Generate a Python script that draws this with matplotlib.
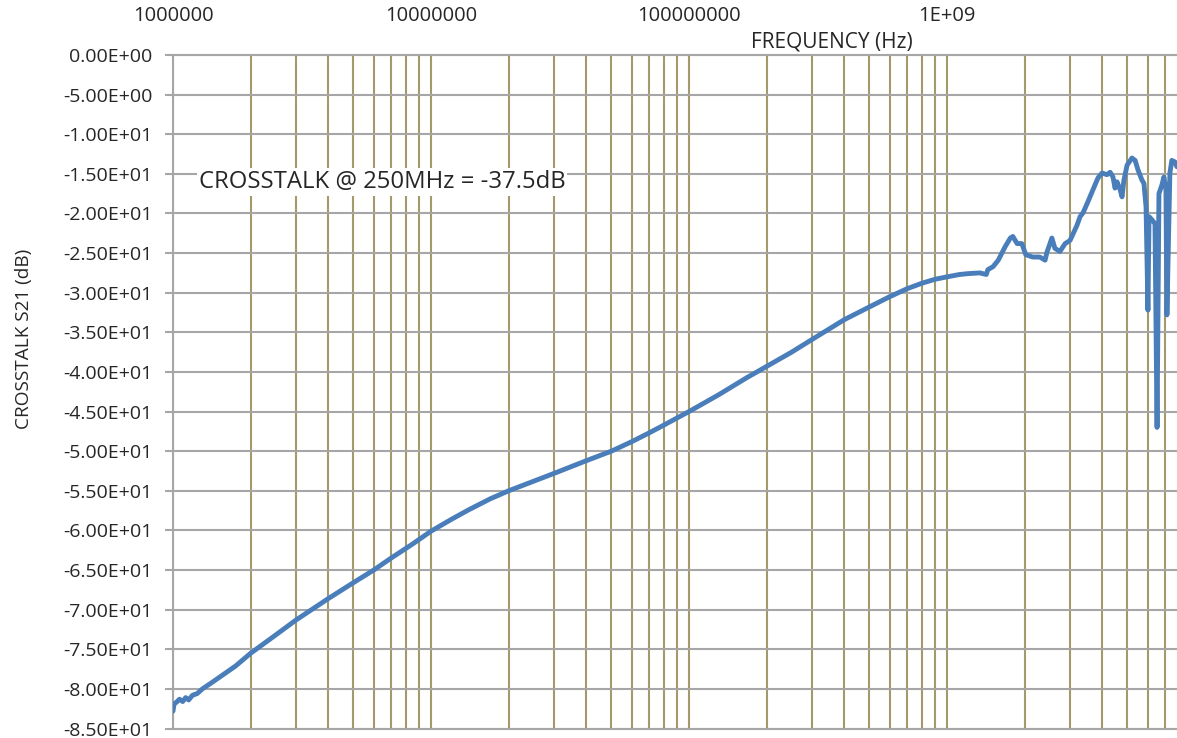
import matplotlib
matplotlib.use("Agg")
import matplotlib.pyplot as plt
from matplotlib.ticker import FuncFormatter, LogLocator, MultipleLocator

# Measured near-end crosstalk of the cable pair, frequency in Hz, S21 in dB
freq_hz = [
    1.00e6, 1.01e6, 1.03e6, 1.06e6, 1.09e6, 1.12e6, 1.15e6, 1.19e6, 1.24e6, 1.30e6,
    1.40e6, 1.55e6, 1.75e6, 2.0e6, 2.5e6, 3.0e6, 4.0e6, 5.0e6, 6.0e6, 7.0e6,
    8.5e6, 1.0e7, 1.2e7, 1.4e7, 1.7e7, 2.0e7, 3.0e7, 4.0e7, 5.0e7, 6.0e7,
    7.0e7, 8.0e7, 9.0e7, 1.0e8, 1.3e8, 1.68e8, 2.0e8, 2.5e8, 3.0e8, 4.0e8,
    5.0e8, 6.0e8, 7.0e8, 8.0e8, 9.0e8, 1.0e9, 1.12e9, 1.20e9, 1.34e9, 1.42e9,
    1.44e9, 1.51e9, 1.58e9, 1.68e9, 1.76e9, 1.80e9, 1.87e9, 1.95e9, 2.02e9, 2.15e9,
    2.29e9, 2.40e9, 2.44e9, 2.55e9, 2.62e9, 2.74e9, 2.87e9, 3.00e9, 3.19e9, 3.28e9,
    3.37e9, 3.52e9, 3.68e9, 3.85e9, 3.99e9, 4.17e9, 4.29e9, 4.40e9, 4.48e9, 4.56e9,
    4.69e9, 4.77e9, 4.85e9, 4.99e9, 5.21e9, 5.36e9, 5.50e9, 5.70e9, 5.80e9, 5.91e9,
    6.01e9, 6.07e9, 6.23e9, 6.40e9, 6.52e9, 6.63e9, 6.81e9, 6.93e9, 7.06e9, 7.12e9,
    7.31e9, 7.44e9, 7.65e9, 7.78e9,
]
s21_db = [
    -82.8, -81.9, -81.7, -81.3, -81.6, -81.1, -81.4, -80.8, -80.6, -80.0,
    -79.3, -78.3, -77.1, -75.5, -73.2, -71.3, -68.6, -66.6, -65.0, -63.5,
    -61.7, -60.1, -58.6, -57.4, -56.0, -55.0, -52.8, -51.2, -50.0, -48.8,
    -47.7, -46.7, -45.8, -45.0, -42.9, -40.7, -39.3, -37.5, -35.9, -33.4,
    -31.8, -30.5, -29.5, -28.8, -28.3, -28.0, -27.7, -27.6, -27.5, -27.7,
    -27.1, -26.7, -25.9, -24.2, -23.1, -22.9, -23.8, -23.8, -25.2, -25.5,
    -25.5, -25.9, -24.9, -23.1, -24.4, -24.8, -23.8, -23.4, -21.5, -20.4,
    -19.9, -18.5, -17.0, -15.5, -14.9, -15.1, -14.8, -15.4, -16.8, -16.0,
    -17.0, -17.9, -15.8, -13.9, -13.0, -13.3, -14.5, -15.8, -16.2, -19.2,
    -32.2, -20.4, -20.8, -21.3, -47.0, -17.5, -16.4, -15.4, -17.0, -32.8,
    -14.9, -13.3, -13.5, -14.1,
]

x_range = (1.0e6, 7.79e9)
y_range = (-85.0, 0.0)
y_step = 5.0

annotation = "CROSSTALK @ 250MHz = -37.5dB"
x_title = "FREQUENCY (Hz)"
y_title = "CROSSTALK S21 (dB)"

FONT = ["Open Sans", "DejaVu Sans"]
TEXT_COLOR = "#262626"
LINE_COLOR = "#4A7EBB"
HGRID_COLOR = "#A6A6A6"
VGRID_COLOR = "#A39A6C"

plt.rcParams["font.family"] = FONT

W, H = 1177, 738
fig = plt.figure(figsize=(W / 100, H / 100), dpi=100)
left_px, right_px, top_px, bottom_px = 173, 1177, 55, 728.5
ax = fig.add_axes([left_px / W, 1 - bottom_px / H,
                   (right_px - left_px) / W, (bottom_px - top_px) / H])

ax.set_xscale("log")
ax.set_xlim(*x_range)
ax.set_ylim(*y_range)

# grid: horizontal grey lines every 5 dB, vertical khaki lines at every 1..9 x decade
ax.yaxis.set_major_locator(MultipleLocator(y_step))
ax.xaxis.set_major_locator(LogLocator(base=10, numticks=20))
ax.xaxis.set_minor_locator(LogLocator(base=10, subs=range(2, 10), numticks=50))
ax.grid(True, axis="y", which="major", color=HGRID_COLOR, linewidth=1.5)
ax.grid(True, axis="x", which="both", color=VGRID_COLOR, linewidth=1.5)
ax.set_axisbelow(True)

# frequency axis drawn along the top
ax.xaxis.tick_top()
ax.xaxis.set_label_position("top")


def freq_label(v, _pos):
    if v >= 1e9:
        return "1E+09"
    return f"{int(round(v))}"


ax.xaxis.set_major_formatter(FuncFormatter(freq_label))
ax.xaxis.set_minor_formatter(FuncFormatter(lambda v, p: ""))
ax.tick_params(axis="x", which="both", length=0, pad=21, labelsize=14.5,
               labelcolor=TEXT_COLOR)

ax.yaxis.set_major_formatter(FuncFormatter(lambda v, p: f"{v:.2E}"))
ax.tick_params(axis="y", which="major", direction="out", length=6, width=1.5,
               color=HGRID_COLOR, pad=9, labelsize=14, labelcolor=TEXT_COLOR)

ax.spines["right"].set_visible(False)
for side in ("left", "top", "bottom"):
    ax.spines[side].set_color(HGRID_COLOR)
    ax.spines[side].set_linewidth(1.5)

ax.plot(freq_hz, s21_db, color=LINE_COLOR, linewidth=3.5, solid_joinstyle="round",
        solid_capstyle="round", zorder=3)

ax.text(0.0254, 0.812, annotation, transform=ax.transAxes, fontsize=17.2,
        color=TEXT_COLOR, ha="left", va="center", zorder=4,
        bbox=dict(boxstyle="square,pad=0.08", fc="white", ec="none"))

fig.text(832 / W, 1 - 42 / H, x_title, fontsize=15, color=TEXT_COLOR,
         ha="center", va="center")
fig.text(24 / W, 1 - 339 / H, y_title, fontsize=13.7, color=TEXT_COLOR,
         ha="center", va="center", rotation=90)

fig.savefig("out.png", dpi=100)
